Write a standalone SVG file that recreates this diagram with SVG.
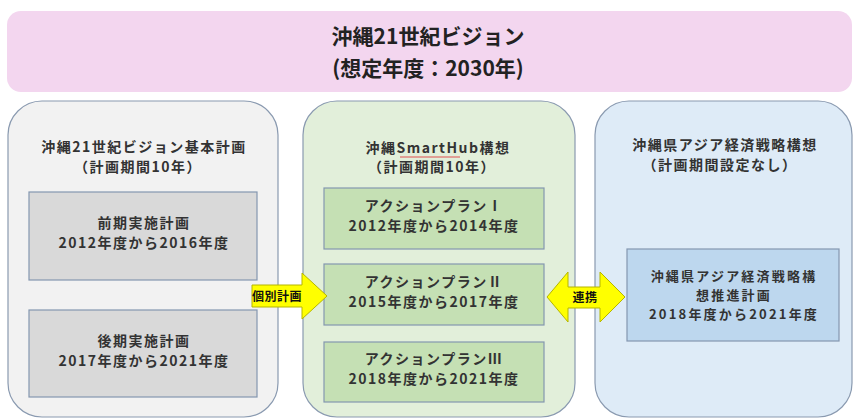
<svg xmlns="http://www.w3.org/2000/svg" width="857" height="420" viewBox="0 0 857 420">
<style>
text{font-family:"Noto Sans CJK JP","Noto Sans",sans-serif;font-weight:bold;fill:#333;text-anchor:middle}
.t{font-size:14px;letter-spacing:1.5px}
.b{font-size:14px;letter-spacing:1.5px}
.r{font-size:13px;letter-spacing:2.2px}
.h{font-size:21px;fill:#222}
.panel{stroke:#8a9ab0;stroke-width:1.2}
.box{stroke:#8497b0;stroke-width:1.2}
.arr{fill:#ffff00;stroke:#b5b500;stroke-width:1}
.al{font-size:12px;fill:#111;letter-spacing:0.5px}
</style>
<g id="vision">
<rect x="7" y="11" width="845" height="81" rx="14" fill="#f3d6ef"/>
<text class="h" x="428" y="44">沖縄21世紀ビジョン</text>
<text class="h" x="428" y="76">(想定年度：2030年)</text>
</g>
<g id="kihon">
<rect class="panel" x="8" y="101" width="270" height="316" rx="34" fill="#f2f2f2"/>
<text class="t" x="144" y="152">沖縄21世紀ビジョン基本計画</text>
<text class="t" x="138" y="172">（計画期間10年）</text>
</g>
<g id="zenki">
<rect class="box" x="29" y="192" width="228" height="88" fill="#d9d9d9"/>
<text class="b" x="144" y="228">前期実施計画</text>
<text class="b" x="144" y="248">2012年度から2016年度</text>
</g>
<g id="kouki">
<rect class="box" x="29" y="310" width="228" height="87" fill="#d9d9d9"/>
<text class="b" x="144" y="346">後期実施計画</text>
<text class="b" x="144" y="366">2017年度から2021年度</text>
</g>
<g id="smarthub">
<rect class="panel" x="303" y="101" width="272" height="316" rx="34" fill="#e2efda"/>
<text class="t" x="438" y="153">沖縄SmartHub構想</text>
<line x1="400" y1="157" x2="460" y2="157" stroke="#e05050" stroke-width="1"/>
<text class="t" x="432" y="172">（計画期間10年）</text>
</g>
<g id="ap1">
<rect class="box" x="324" y="188" width="220" height="61" fill="#c5e0b4"/>
<text class="b" x="434" y="211">アクションプランⅠ</text>
<text class="b" x="434" y="231">2012年度から2014年度</text>
</g>
<g id="ap2">
<rect class="box" x="324" y="264" width="220" height="61" fill="#c5e0b4"/>
<text class="b" x="434" y="287">アクションプランⅡ</text>
<text class="b" x="434" y="307">2015年度から2017年度</text>
</g>
<g id="ap3">
<rect class="box" x="324" y="342" width="220" height="60" fill="#c5e0b4"/>
<text class="b" x="434" y="364">アクションプランⅢ</text>
<text class="b" x="434" y="384">2018年度から2021年度</text>
</g>
<g id="asia">
<rect class="panel" x="595" y="101" width="257" height="316" rx="34" fill="#deebf7"/>
<text class="t" x="725" y="150">沖縄県アジア経済戦略構想</text>
<text class="t" x="720" y="170">（計画期間設定なし）</text>
</g>
<g id="asiaplan">
<rect class="box" x="627" y="249" width="212" height="92" fill="#bdd7ee"/>
<text class="r" x="734" y="281">沖縄県アジア経済戦略構</text>
<text class="r" x="734" y="300">想推進計画</text>
<text class="r" x="734" y="319">2018年度から2021年度</text>
</g>
<g id="connectors">
<polygon class="arr" points="252,285 302,285 302,273 327,296 302,319 302,307 252,307"/>
<text class="al" x="277" y="301">個別計画</text>
<polygon class="arr" points="547,297 568,272 568,287 600,287 600,272 625,297 600,322 600,308 568,308 568,322"/>
<text class="al" x="585" y="302">連携</text>
</g>
</svg>
